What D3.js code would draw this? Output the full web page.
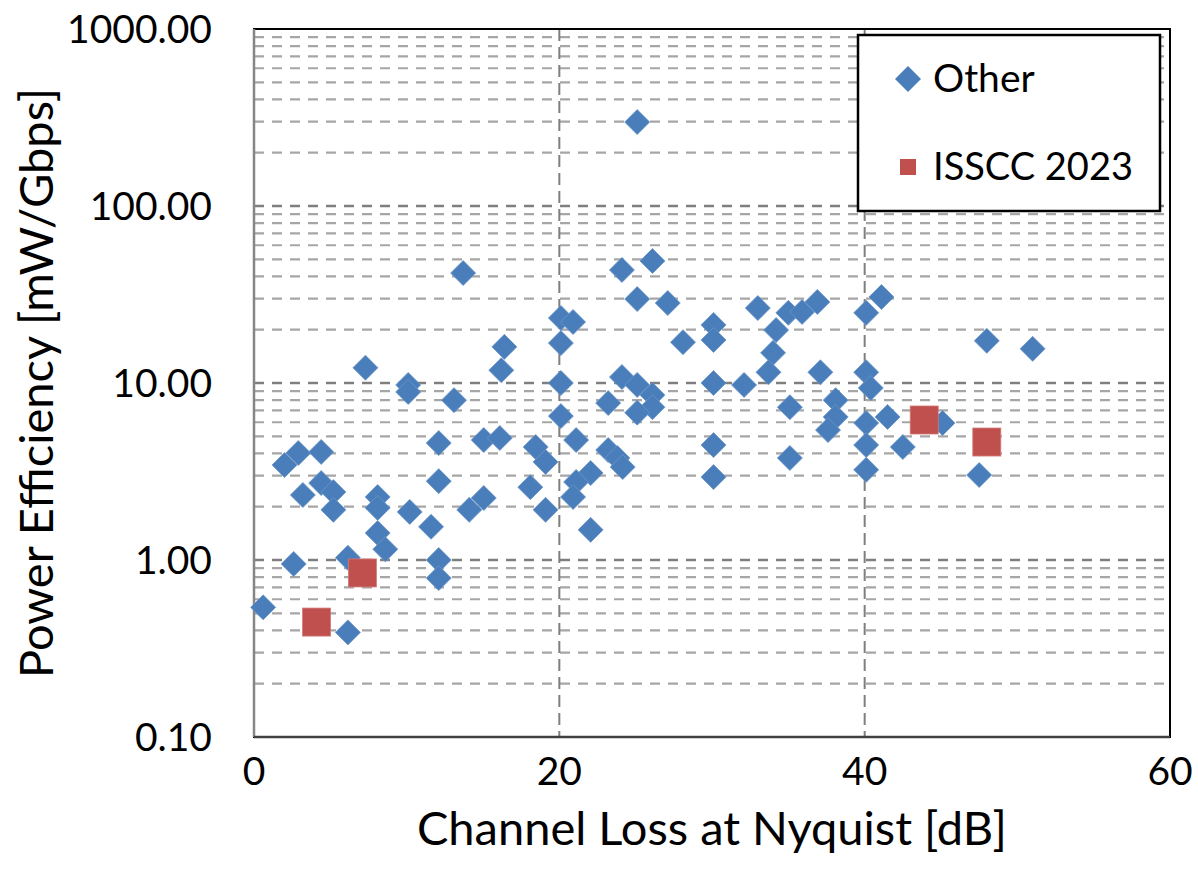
<!DOCTYPE html>
<html>
<head>
<meta charset="utf-8">
<script src="https://cdn.jsdelivr.net/npm/d3@7"></script>
<style>
  html, body { margin: 0; padding: 0; background: #fff; }
  svg { display: block; }
  text { font-family: Lato, "Open Sans", sans-serif; fill: #000; }
</style>
</head>
<body>
<svg id="chart" width="1198" height="888"></svg>
<script>
// ---- Data ----
const otherLoss = [0.6, 2.0, 2.9, 4.4, 2.6, 3.2, 4.4, 5.2, 5.2, 6.15, 6.15, 7.3, 8.1, 8.1, 8.1, 8.6,
  10.1, 10.1, 10.2, 11.6, 12.1, 12.1, 12.1, 12.1, 13.1, 13.7, 14.1, 15.05, 15.05, 16.1, 16.4, 16.2,
  18.1, 18.45, 19.1, 19.1, 20.1, 20.9, 20.1, 20.1, 20.1, 21.1, 22.05, 21.1, 20.9, 22.05,
  23.2, 23.8, 24.15, 24.1, 25.1, 26.1, 23.2, 26.1, 25.1, 24.1, 26.1, 25.1, 27.1, 25.1,
  28.1, 30.1, 30.1, 30.1, 30.1, 30.1, 32.1, 33.0, 34.2, 34.0, 33.7, 35.0, 35.9, 36.9, 37.1,
  35.1, 35.1, 38.1, 38.1, 37.6, 40.1, 41.1, 40.1, 40.4, 40.1, 40.1, 40.1, 41.5, 42.5, 45.1,
  47.5, 48.0, 51.0];
const otherPower = [0.54, 3.44, 4.02, 4.08, 0.95, 2.33, 2.72, 2.42, 1.92, 1.03, 0.39, 12.2, 2.27, 1.97, 1.42, 1.15,
  9.75, 8.9, 1.87, 1.54, 4.58, 2.79, 1.0, 0.79, 8.0, 41.8, 1.92, 2.24, 4.76, 4.89, 16.0, 11.8,
  2.58, 4.35, 3.58, 1.92, 23.3, 22.1, 16.8, 10.0, 6.5, 4.76, 3.1, 2.76, 2.27, 1.48,
  4.18, 3.77, 3.35, 10.8, 9.75, 8.55, 7.7, 7.3, 6.8, 43.5, 48.9, 29.8, 28.3, 298,
  17.0, 21.3, 17.5, 10.0, 4.46, 2.94, 9.75, 26.5, 19.9, 14.8, 11.5, 24.9, 25.2, 28.7, 11.5,
  7.3, 3.77, 8.0, 6.43, 5.42, 24.9, 30.6, 11.5, 9.37, 5.94, 4.46, 3.23, 6.43, 4.35, 5.94,
  3.02, 17.3, 15.6];
const isscc2023Loss = [4.1, 7.1, 43.9, 48.0];
const isscc2023Power = [0.446, 0.845, 6.18, 4.64];

const xTicks = [0, 20, 40, 60];
const yMajorTicks = [0.1, 1, 10, 100, 1000];
const seriesNames = ["Other", "ISSCC 2023"];

// ---- Layout ----
const svg = d3.select("#chart");
const plot = { left: 254, right: 1170, top: 29, bottom: 737 };
const x = d3.scaleLinear().domain([0, 60]).range([plot.left, plot.right]);
const y = d3.scaleLog().domain([0.1, 1000]).range([plot.bottom, plot.top]);

const blue = "#4A7EBB", red = "#C0504D";

// minor gridlines
const minorTicks = [];
[0.1, 1, 10, 100].forEach(d => { for (let k = 2; k <= 9; k++) minorTicks.push(d * k); });
svg.append("g").selectAll("line").data(minorTicks).join("line")
  .attr("x1", plot.left).attr("x2", plot.right)
  .attr("y1", d => y(d)).attr("y2", d => y(d))
  .attr("stroke", "#A6A6A6").attr("stroke-width", 2.2).attr("stroke-dasharray", "10,8");

// major gridlines
svg.append("g").selectAll("line").data(yMajorTicks.slice(1, 4)).join("line")
  .attr("x1", plot.left).attr("x2", plot.right)
  .attr("y1", d => y(d)).attr("y2", d => y(d))
  .attr("stroke", "#7F7F7F").attr("stroke-width", 2.4).attr("stroke-dasharray", "10,8");

// vertical gridlines
svg.append("g").selectAll("line").data([20, 40]).join("line")
  .attr("x1", d => x(d)).attr("x2", d => x(d))
  .attr("y1", plot.top).attr("y2", plot.bottom)
  .attr("stroke", "#7F7F7F").attr("stroke-width", 2).attr("stroke-dasharray", "12,6");

// plot border
svg.append("rect").attr("x", plot.left).attr("y", plot.top)
  .attr("width", plot.right - plot.left).attr("height", plot.bottom - plot.top)
  .attr("fill", "none").attr("stroke", "#000").attr("stroke-width", 2);
// axes lines
svg.append("line").attr("x1", plot.left).attr("x2", plot.left).attr("y1", plot.top).attr("y2", plot.bottom)
  .attr("stroke", "#868686").attr("stroke-width", 2.5);
svg.append("line").attr("x1", plot.left).attr("x2", plot.right).attr("y1", plot.bottom).attr("y2", plot.bottom)
  .attr("stroke", "#404040").attr("stroke-width", 2.5);

// tick labels
const fmt = d3.format(".2f");
svg.append("g").selectAll("text").data(yMajorTicks).join("text")
  .attr("x", 212).attr("y", d => y(d) + 14)
  .attr("text-anchor", "end").attr("font-size", 39).text(d => fmt(d));
svg.append("g").selectAll("text").data(xTicks).join("text")
  .attr("x", d => x(d)).attr("y", 785)
  .attr("text-anchor", "middle").attr("font-size", 39).text(d => d);

// axis titles
svg.append("text").attr("x", 712).attr("y", 845)
  .attr("text-anchor", "middle").attr("font-size", 47).text("Channel Loss at Nyquist [dB]");
svg.append("text").attr("transform", "translate(53,383) rotate(-90)")
  .attr("text-anchor", "middle").attr("font-size", 47).text("Power Efficiency [mW/Gbps]");

// markers
const diamond = (cx, cy, r) => `M${cx},${cy - r}L${cx + r},${cy}L${cx},${cy + r}L${cx - r},${cy}Z`;
const otherData = otherLoss.map((d, i) => ({ x: d, y: otherPower[i] }));
svg.append("g").selectAll("path").data(otherData).join("path")
  .attr("d", d => diamond(x(d.x), y(d.y), 12.5))
  .attr("fill", blue).attr("stroke", "#6A95C8").attr("stroke-width", 0.8);

const issccData = isscc2023Loss.map((d, i) => ({ x: d, y: isscc2023Power[i] }));
svg.append("g").selectAll("rect").data(issccData).join("rect")
  .attr("x", d => x(d.x) - 14).attr("y", d => y(d.y) - 14)
  .attr("width", 28).attr("height", 28)
  .attr("fill", red).attr("stroke", "#D07A78").attr("stroke-width", 0.8);

// legend
const lg = svg.append("g");
lg.append("rect").attr("x", 858).attr("y", 35).attr("width", 302).attr("height", 176)
  .attr("fill", "#fff").attr("stroke", "#000").attr("stroke-width", 2.5);
lg.append("path").attr("d", diamond(908, 79, 13)).attr("fill", blue);
lg.append("rect").attr("x", 900).attr("y", 159).attr("width", 16).attr("height", 16).attr("fill", red);
lg.append("text").attr("x", 933).attr("y", 92).attr("font-size", 39).text(seriesNames[0]);
lg.append("text").attr("x", 933).attr("y", 180).attr("font-size", 38).text(seriesNames[1]);
</script>
</body>
</html>
